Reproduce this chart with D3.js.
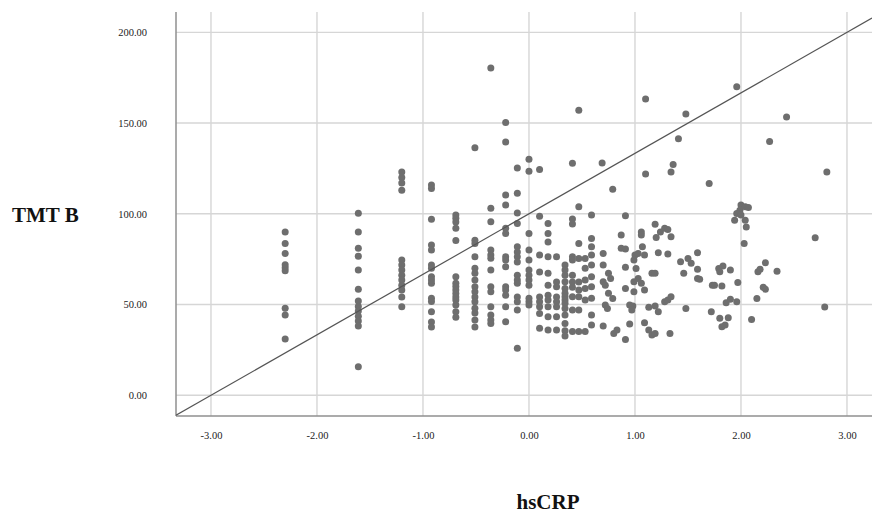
<!DOCTYPE html>
<html>
<head>
<meta charset="utf-8">
<script src="https://cdn.jsdelivr.net/npm/d3@7"></script>
<style>
  html, body { margin: 0; padding: 0; background: #fff; }
  svg { display: block; }
</style>
</head>
<body>
<div class="chart"></div>
<script>
// tick values
var xTicks = [-3, -2, -1, 0, 1, 2, 3];
var yTicks = [0, 50, 100, 150, 200];

// reference line (TMT B = intercept + slope * hsCRP)
var lineIntercept = 100;
var lineSlope = 33.33;

// columns of points sharing the same (log) hsCRP value
var columnX = [-2.30, -1.61, -1.20, -0.92, -0.69, -0.51, -0.36, -0.22, -0.11, 0.00,
               0.10, 0.18, 0.26, 0.34, 0.41, 0.47, 0.53, 0.59];
var columnY = [
  [90, 83.7, 78.2, 72, 70.3, 68.6, 48, 44.2, 31],
  [100.3, 90, 81, 76.6, 69, 58.5, 52, 49, 46.4, 43.6, 41, 38.2, 15.7],
  [123, 120, 117, 113, 74.5, 71.8, 69, 66.2, 63.5, 60.7, 58, 54.2, 48.8],
  [115.9, 114, 97, 82.8, 80, 71.8, 70, 65.3, 63.5, 61.8, 53.5, 51.7, 46, 40.4, 37.6],
  [99.3, 97.5, 95.5, 92, 85.3, 65.3, 61.8, 60, 58, 56.1, 54.2, 52.5, 49.7, 46, 43],
  [136.4, 85.5, 83.7, 76.3, 70, 67.3, 63.5, 59.8, 57, 54.2, 51.5, 48, 45.3, 41.5, 37.7],
  [180.4, 103, 95.6, 80, 77.3, 75.5, 69, 59.8, 57, 48.8, 44.2, 41.5, 39.6],
  [150.3, 139.6, 110.3, 104.8, 92, 89.2, 76.3, 74.5, 70.8, 59.8, 58, 55.2, 48.8, 40.5],
  [125.3, 111.3, 100.5, 94.7, 81.8, 79, 76.3, 73.5, 66.2, 63.5, 61.7, 54.2, 51.5, 47, 25.9],
  [130, 123.5, 89.2, 80, 74.5, 69, 66.2, 63.5, 60.7, 53.5, 51.5, 49.7],
  [124.4, 98.7, 77.3, 68, 54.2, 51.5, 48.8, 45.1, 36.9],
  [94.7, 89.2, 84.5, 76.3, 67.3, 60.7, 55.2, 52.5, 48.8, 43.3, 36],
  [76.3, 62.5, 59.8, 54.2, 51.5, 48.8, 43.3, 36],
  [71.8, 69, 66.2, 62.6, 58.9, 56.2, 54.3, 52.5, 50.7, 47.9, 44.2, 39.6, 35.6, 32.7],
  [127.8, 97.1, 94.4, 76.3, 74.5, 66.2, 62.5, 59.5, 54.3, 47, 35.1],
  [157.1, 103.9, 83.7, 75.4, 62.5, 58, 54.3, 47, 35.1],
  [75.4, 70, 63.5, 58.9, 52.5, 35.1],
  [99.3, 86.4, 81.8, 77.3, 71.8, 65.3, 59.8, 53.5, 44.2, 38.7]
];

// remaining scattered points (higher hsCRP)
var scatterX = [0.70, 0.70, 0.70, 0.72, 0.75, 0.77, 0.79, 0.75, 0.72, 0.74, 0.70, 0.80, 0.83, 0.69, 0.79,
  0.87, 0.87, 0.91, 0.91, 0.91, 0.91, 0.91, 0.95, 0.98, 0.97, 0.95, 0.99, 1.01, 1.03, 0.99, 0.99,
  1.00, 1.03, 1.06, 1.06, 1.07, 1.09, 1.06, 1.09, 1.09, 1.10, 1.10, 1.13, 1.16, 1.19, 1.13, 1.19,
  1.22, 1.16, 1.19, 1.19, 1.20, 1.24, 1.28, 1.31, 1.34, 1.22, 1.31, 1.28, 1.31, 1.34, 1.33, 1.34,
  1.36, 1.41, 1.48, 1.43, 1.46, 1.50, 1.53, 1.48, 1.59, 1.59, 1.59, 1.61, 1.70, 1.73, 1.72, 1.96,
  2.00, 1.99, 2.04, 2.07, 1.96, 2.00, 2.04, 2.05, 1.94, 2.03, 2.70, 1.79, 1.83, 1.80, 1.90, 2.23,
  2.16, 2.18, 2.34, 1.75, 1.82, 1.97, 2.21, 2.23, 2.15, 1.86, 1.90, 1.96, 2.79, 1.80, 1.88, 1.82,
  1.85, 2.10, 2.27, 2.43, 2.81];
var scatterY = [78.2, 71.8, 62.6, 60.7, 67.2, 64.4, 53.4, 56.2, 49.7, 47.9, 38.2, 34.1, 36, 128, 113.6,
  88.3, 81, 80.6, 98.9, 70.5, 58.9, 30.8, 49.7, 49.2, 47, 39.3, 74.5, 69.9, 64.4, 62.6, 57,
  77.3, 78.2, 90, 88.3, 81.8, 77.3, 61.7, 58, 40, 163.2, 122, 36, 33.2, 34.1, 48.5, 49.2,
  46, 67.2, 67.2, 94.2, 87, 90, 92, 91.4, 87.3, 78.5, 77.8, 51.5, 52.5, 54.3, 34.1, 123,
  127.2, 141.3, 155, 73.6, 67.2, 75.4, 72.7, 47.9, 78.5, 69.4, 64.4, 63.9, 116.7, 60.7, 46, 170,
  104.8, 102, 103.9, 103.5, 100.2, 99.3, 96.5, 92.8, 96.5, 83.7, 86.8, 69.9, 71.2, 68.1, 69, 73,
  68.1, 69.4, 68.4, 60.7, 60.2, 62.2, 59.5, 58.5, 53.4, 51, 52.9, 51.5, 48.6, 42.4, 42.7, 37.8,
  38.7, 41.8, 139.9, 153.4, 123];

(function() {
  var width = 872, height = 517;
  var plot = { left: 176, right: 872, top: 12, bottom: 416 };
  var fmt = function(d) { return d.toFixed(2); }; // plain hyphen minus, like the original

  var svg = d3.select(".chart").append("svg")
    .attr("width", width)
    .attr("height", height);

  var x = d3.scaleLinear().domain([-3.33, 3.236]).range([plot.left, plot.right]);
  var y = d3.scaleLinear().domain([-11.4, 211.2]).range([plot.bottom, plot.top]);

  var points = [];
  columnX.forEach(function(cx, i) {
    columnY[i].forEach(function(v) { points.push({ x: cx, y: v }); });
  });
  scatterX.forEach(function(sx, i) { points.push({ x: sx, y: scatterY[i] }); });

  // grid
  var grid = svg.append("g").attr("class", "grid");
  grid.selectAll("line.v")
    .data(xTicks)
    .enter().append("line")
      .attr("class", "v")
      .attr("x1", function(d) { return x(d); })
      .attr("x2", function(d) { return x(d); })
      .attr("y1", plot.top)
      .attr("y2", plot.bottom)
      .attr("stroke", "#d6d6d6")
      .attr("stroke-width", 1.4);
  grid.selectAll("line.h")
    .data(yTicks)
    .enter().append("line")
      .attr("class", "h")
      .attr("x1", plot.left)
      .attr("x2", plot.right)
      .attr("y1", function(d) { return y(d); })
      .attr("y2", function(d) { return y(d); })
      .attr("stroke", "#d6d6d6")
      .attr("stroke-width", 1.4);

  // axes
  var xAxis = svg.append("g")
    .attr("transform", "translate(0," + plot.bottom + ")")
    .call(d3.axisBottom(x).tickValues(xTicks).tickFormat(fmt).tickSize(0).tickPadding(16));
  var yAxis = svg.append("g")
    .attr("transform", "translate(" + plot.left + ",0)")
    .call(d3.axisLeft(y).tickValues(yTicks).tickFormat(fmt).tickSize(0).tickPadding(29));
  [xAxis, yAxis].forEach(function(a) {
    a.select(".domain").attr("stroke", "#8f8f8f").attr("stroke-width", 1.5);
    a.selectAll("text")
      .attr("fill", "#222")
      .style("font-family", "'Liberation Serif', 'Times New Roman', serif")
      .style("font-size", "10.5px");
  });
  xAxis.select(".domain").attr("d", "M" + plot.left + ",0H" + plot.right);
  yAxis.select(".domain").attr("d", "M0," + plot.top + "V" + plot.bottom);

  // points
  svg.append("g").selectAll("circle")
    .data(points)
    .enter().append("circle")
      .attr("cx", function(d) { return x(d.x); })
      .attr("cy", function(d) { return y(d.y); })
      .attr("r", 3.5)
      .attr("fill", "#6e6e6e");

  // reference line
  svg.append("clipPath").attr("id", "clip")
    .append("rect")
      .attr("x", plot.left).attr("y", plot.top)
      .attr("width", plot.right - plot.left).attr("height", plot.bottom - plot.top);
  var dom = x.domain();
  svg.append("line")
    .attr("clip-path", "url(#clip)")
    .attr("x1", x(dom[0])).attr("y1", y(lineIntercept + lineSlope * dom[0]))
    .attr("x2", x(dom[1])).attr("y2", y(lineIntercept + lineSlope * dom[1]))
    .attr("stroke", "#555")
    .attr("stroke-width", 1.2);

  // titles
  svg.append("text")
    .attr("x", 12).attr("y", 222)
    .style("font-family", "'Liberation Serif', 'Times New Roman', serif")
    .style("font-weight", "bold")
    .style("font-size", "21px")
    .attr("fill", "#111")
    .text("TMT B");
  svg.append("text")
    .attr("x", 548).attr("y", 509)
    .attr("text-anchor", "middle")
    .style("font-family", "'Liberation Serif', 'Times New Roman', serif")
    .style("font-weight", "bold")
    .style("font-size", "21px")
    .attr("fill", "#111")
    .text("hsCRP");
})();
</script>
</body>
</html>
